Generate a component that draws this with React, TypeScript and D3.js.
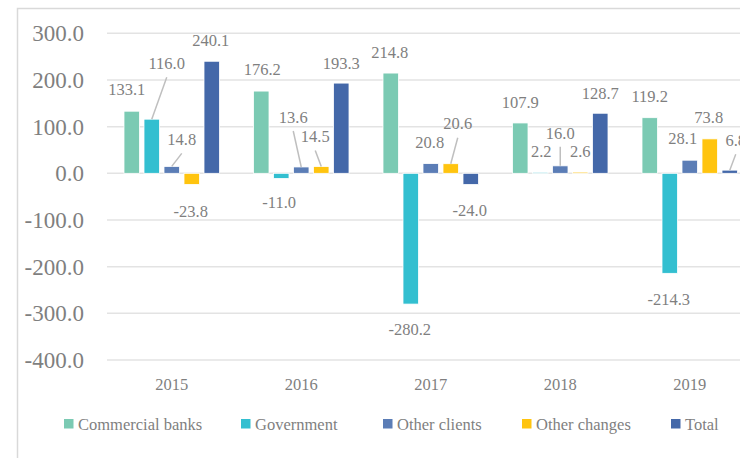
import React from 'react';
import * as d3 from 'd3';

const years = ['2015', '2016', '2017', '2018', '2019'];
const seriesNames = ['Commercial banks', 'Government', 'Other clients', 'Other changes', 'Total'];
const colors = ['#7BCAB3', '#33BFD0', '#5B7DB6', '#FFC40F', '#4468A9'];

const commercialBanks = [133.1, 176.2, 214.8, 107.9, 119.2];
const government = [116.0, -11.0, -280.2, 2.2, -214.3];
const otherClients = [14.8, 13.6, 20.8, 16.0, 28.1];
const otherChanges = [-23.8, 14.5, 20.6, 2.6, 73.8];
const total = [240.1, 193.3, -24.0, 128.7, 6.8];

const yTicks = [300, 200, 100, 0, -100, -200, -300, -400];

// manual nudges of the data labels (px), [series][year] -> [dx, dy]
const labelNudge: [number, number][][] = [
  [[-5, -1], [1, -1], [-1, 0], [0, 0], [0, 0]],
  [[15, -35], [-2, 1], [-1, 2], [1, 0], [-1, 3]],
  [[10, -6], [-8, -29], [-1, 0], [0, -12], [-7, -1]],
  [[-1, 4], [-6, -9], [7, -19], [0, 0], [-1, -1]],
  [[-1, 0], [0, 1], [-1, 3], [0, 1], [6, -9]],
];

const W = 740;
const H = 458;
const plotLeft = 107;
const plotRight = 754.5;

// excel style: plain hyphen for negatives
const fmt = (v: number) => v.toFixed(1);

export default function App() {
  const data = [commercialBanks, government, otherClients, otherChanges, total];

  const x = d3.scaleBand<string>().domain(years).range([plotLeft, plotRight]).paddingInner(0).paddingOuter(0);
  const xs = d3.scaleBand<string>().domain(seriesNames).range([-47.75, 47.75]).paddingInner(0.225);
  const y = d3.scaleLinear().domain([-400, 300]).range([360, 33.3]);
  const grey = '#7F7F7F';
  const font = '"Liberation Serif", "DejaVu Serif", serif';

  const bars: React.ReactNode[] = [];
  const labels: React.ReactNode[] = [];
  data.forEach((vals, s) => {
    vals.forEach((v, i) => {
      const bx = (x(years[i]) as number) + x.bandwidth() / 2 + (xs(seriesNames[s]) as number);
      const bw = xs.bandwidth();
      const cx = bx + bw / 2;
      const y0 = y(0);
      const yv = y(v);
      bars.push(
        <rect key={`b${s}-${i}`} x={bx} y={Math.min(y0, yv)} width={bw} height={Math.abs(yv - y0)}
          fill={colors[s]} stroke="#fff" strokeWidth={0.8} />
      );
      const [dx, dy] = labelNudge[s][i];
      const lx = cx + dx;
      const ly = yv + (v >= 0 ? -21 : 23) + dy;
      if (dy < -5) {
        labels.push(
          <line key={`l${s}-${i}`} x1={lx} y1={ly + 14} x2={cx} y2={yv} stroke="#BFBFBF" strokeWidth={1.5} />
        );
      }
      labels.push(
        <text key={`t${s}-${i}`} x={lx} y={ly} dy="0.35em" textAnchor="middle" fontSize={16.5} fill={grey}>
          {fmt(v)}
        </text>
      );
    });
  });

  const legendX = [64, 241, 383, 522, 671];

  return (
    <svg width={W} height={H} style={{ position: 'absolute', left: 0, top: 0, background: '#fff' }} fontFamily={font}>
      <rect x={0} y={0} width={W} height={H} fill="#fff" />
      <path d={`M17.5,${H} V8.5 H${W}`} fill="none" stroke="#D9D9D9" strokeWidth={1.5} />
      {yTicks.map((t) => (
        <g key={t}>
          <line x1={plotLeft} x2={W} y1={y(t)} y2={y(t)} stroke="#E3E3E3" strokeWidth={1.5} />
          <text x={84} y={y(t)} dy="0.35em" textAnchor="end" fontSize={23} fill={grey}>
            {fmt(t)}
          </text>
        </g>
      ))}
      {bars}
      {labels}
      {years.map((yr) => (
        <text key={yr} x={(x(yr) as number) + x.bandwidth() / 2} y={384} dy="0.35em" textAnchor="middle" fontSize={16.5} fill={grey}>
          {yr}
        </text>
      ))}
      {seriesNames.map((n, s) => (
        <g key={n} transform={`translate(${legendX[s]},424)`}>
          <rect x={0} y={-5} width={9.5} height={9.5} fill={colors[s]} />
          <text x={14} y={0} dy="0.35em" fontSize={16.5} fill={grey}>{n}</text>
        </g>
      ))}
    </svg>
  );
}
